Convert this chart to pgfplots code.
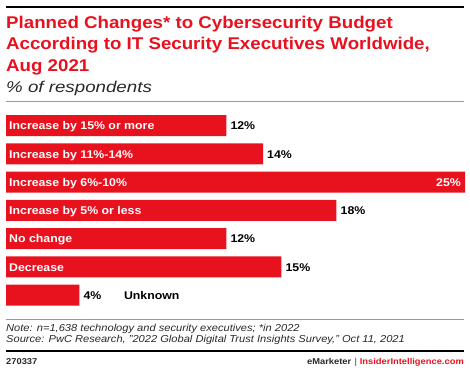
\documentclass[border=0pt]{standalone}
\usepackage{fontspec}
\setmainfont{Liberation Sans}[FakeStretch=1.1]
\newfontfamily\subfont{Liberation Sans}[FakeStretch=1.2]
\usepackage{pgfplots}
\pgfplotsset{compat=1.18}
\definecolor{emred}{RGB}{232,17,30}
\definecolor{txtgray}{RGB}{40,40,40}
\begin{document}
\begin{tikzpicture}[x=1pt,y=1pt]
\path[use as bounding box] (0,0) rectangle (470,-371);
% header
\draw[line width=2.2pt, black] (6,-7) -- (464,-7);
\node[anchor=base west, inner sep=0, text=emred, font=\bfseries\fontsize{17}{20}\selectfont] at (6,-28.5) {Planned Changes* to Cybersecurity Budget};
\node[anchor=base west, inner sep=0, text=emred, font=\bfseries\fontsize{17}{20}\selectfont] at (6,-50) {According to IT Security Executives Worldwide,};
\node[anchor=base west, inner sep=0, text=emred, font=\bfseries\fontsize{17}{20}\selectfont] at (6,-71.5) {Aug 2021};
\node[anchor=base west, inner sep=0, text=txtgray, font=\subfont\itshape\fontsize{15.6}{18}\selectfont] at (6,-92.5) {\% of respondents};
\draw[line width=0.7pt, gray!80] (6,-101.7) -- (464,-101.7);
% chart
\begin{axis}[
  at={(6pt,-111.4pt)}, anchor=north west,
  scale only axis, width=459pt, height=197.75pt,
  xmin=0, xmax=25, ymin=-0.5, ymax=6.5, y dir=reverse,
  axis lines=none, clip=false,
]
\addplot[xbar, bar width=21pt, fill=emred, draw=none] coordinates {
 (12,0) (14,1) (25,2) (18,3) (12,4) (15,5) (4,6)};
% category labels inside bars
\addplot[draw=none, mark=none, nodes near coords, point meta=explicit symbolic,
  nodes near coords style={anchor=base west, inner sep=0, xshift=3pt, yshift=-4.3pt,
  text=white, font=\bfseries\fontsize{11.2}{13}\selectfont}]
  table[x=x, y=y, meta=label, col sep=comma, row sep=\\] {
x,y,label\\
0,0,Increase by 15\% or more\\
0,1,Increase by 11\%-14\%\\
0,2,Increase by 6\%-10\%\\
0,3,Increase by 5\% or less\\
0,4,No change\\
0,5,Decrease\\
};
% value labels outside bars
\addplot[draw=none, mark=none, nodes near coords, point meta=explicit symbolic,
  nodes near coords style={anchor=base west, inner sep=0, xshift=4pt, yshift=-4.3pt,
  text=black, font=\bfseries\fontsize{11.2}{13}\selectfont}]
  table[x=x, y=y, meta=label, col sep=comma, row sep=\\] {
x,y,label\\
12,0,12\%\\
14,1,14\%\\
18,3,18\%\\
12,4,12\%\\
15,5,15\%\\
4,6,4\%\\
6.2,6,Unknown\\
};
% value label inside the longest bar
\addplot[draw=none, mark=none, nodes near coords, point meta=explicit symbolic,
  nodes near coords style={anchor=base east, inner sep=0, xshift=-4pt, yshift=-4.3pt,
  text=white, font=\bfseries\fontsize{11.2}{13}\selectfont}]
  table[x=x, y=y, meta=label, col sep=comma, row sep=\\] {
x,y,label\\
25,2,25\%\\
};
\end{axis}
% footer
\draw[line width=0.7pt, gray!80] (6,-319.3) -- (464,-319.3);
\node[anchor=base west, inner sep=0, text=txtgray, font=\itshape\fontsize{10.1}{12}\selectfont] at (6,-331) {Note: n=1,638 technology and security executives; *in 2022};
\node[anchor=base west, inner sep=0, text=txtgray, font=\itshape\fontsize{10.1}{12}\selectfont] at (6,-342.5) {Source: PwC Research, "2022 Global Digital Trust Insights Survey," Oct 11, 2021};
\draw[line width=2.5pt, black] (6,-351) -- (464,-351);
\node[anchor=base west, inner sep=0, text=txtgray, font=\bfseries\fontsize{8.5}{10}\selectfont] at (6,-364) {270337};
\node[anchor=base east, inner sep=0, font=\bfseries\fontsize{8.5}{10}\selectfont] at (464,-364) {\textcolor{txtgray}{eMarketer}\hspace{3pt}\textcolor{gray}{|}\hspace{3pt}\textcolor{emred}{InsiderIntelligence.com}};
\end{tikzpicture}
\end{document}
